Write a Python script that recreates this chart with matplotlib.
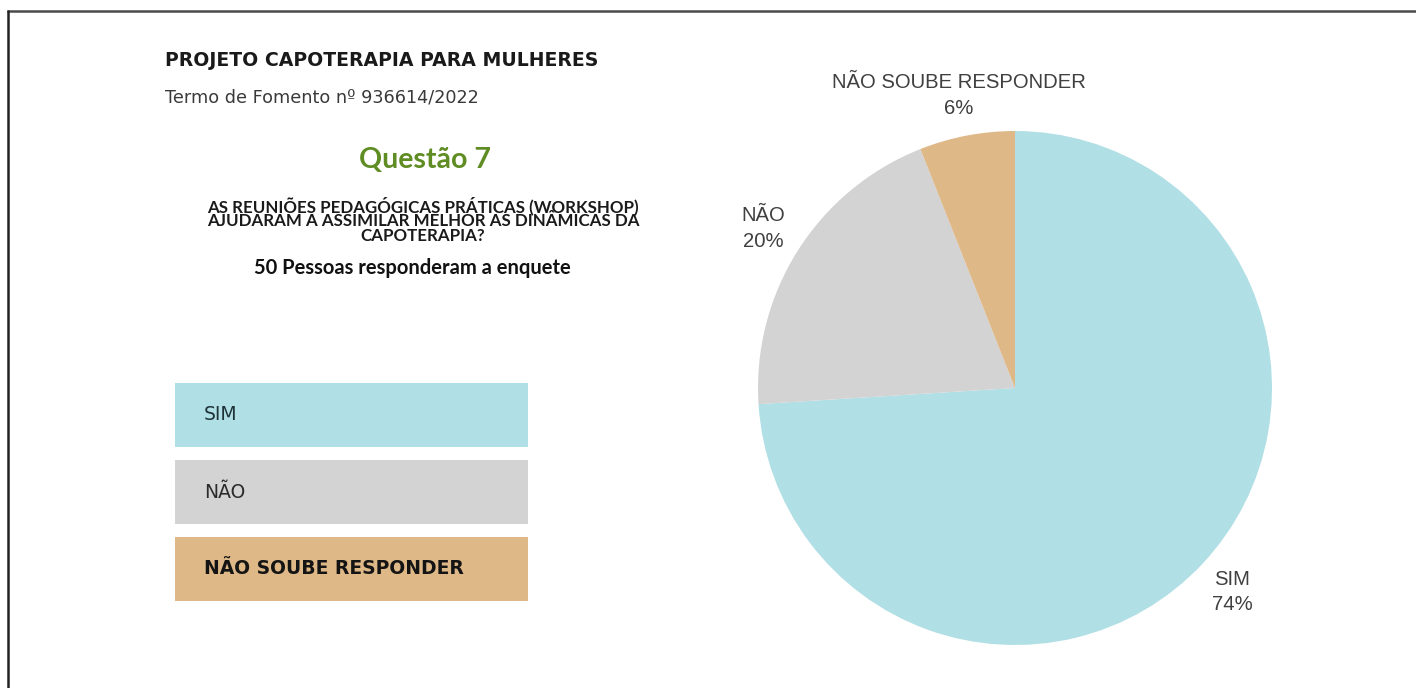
import matplotlib.pyplot as plt
from matplotlib.patches import Rectangle

# poll results (question 7, 50 answers)
categorias = ['SIM', 'NÃO', 'NÃO SOUBE RESPONDER']
percentuais = [74, 20, 6]
cores = ['#B0DFE5', '#D3D3D3', '#DEB887']

titulo = 'PROJETO CAPOTERAPIA PARA MULHERES'
subtitulo = 'Termo de Fomento nº 936614/2022'
questao = 'Questão 7'
pergunta = ['AS REUNIÕES PEDAGÓGICAS PRÁTICAS (WORKSHOP)',
            'AJUDARAM A ASSIMILAR MELHOR AS DINÂMICAS DA',
            'CAPOTERAPIA?']
respostas = '50 Pessoas responderam a enquete'

W, H = 1416, 688
fig = plt.figure(figsize=(W / 100, H / 100), dpi=100)
fig.patch.set_facecolor('white')

# background axes in pixel units (y pointing down)
bg = fig.add_axes([0, 0, 1, 1])
bg.set_xlim(0, W)
bg.set_ylim(H, 0)
bg.axis('off')

# frame lines (top and left)
bg.plot([7, W], [10.5, 10.5], color='#4a4a4a', lw=1.8, solid_capstyle='butt')
bg.plot([7.5, 7.5], [10, H], color='#222222', lw=1.8, solid_capstyle='butt')

bg.text(165, 61, titulo, fontsize=13.6, fontweight='bold', family='DejaVu Sans',
        color='#1a1a1a', va='center', ha='left')
bg.text(165, 97, subtitulo, fontsize=12.7, family='DejaVu Sans',
        color='#3a3a3a', va='center', ha='left')
bg.text(425, 160, questao, fontsize=20.5, fontweight='bold', family='Lato',
        color='#5f8c23', va='center', ha='center')
for i, linha in enumerate(pergunta):
    bg.text(423, 206 + i * 15, linha, fontsize=12.2, fontweight='bold',
            family='Lato', color='#1a1a1a', va='center', ha='center')
bg.text(412.5, 268, respostas, fontsize=14.5, fontweight='bold', family='Lato',
        color='#111111', va='center', ha='center')

# colour key boxes on the left
cores_texto = ['#1d3338', '#2b2b2b', '#141414']
pesos = ['normal', 'normal', 'bold']
for i, (cat, cor) in enumerate(zip(categorias, cores)):
    y0 = 383 + i * 77
    bg.add_patch(Rectangle((175, y0), 353, 64, facecolor=cor, edgecolor='none'))
    bg.text(204, y0 + 32, cat, fontsize=13.5, fontweight=pesos[i],
            family='DejaVu Sans', color=cores_texto[i], va='center', ha='left')

# pie chart: centre (1015, 388), radius 257 px
r = 257
lim = 1.4
size = 2 * lim * r
ax = fig.add_axes([(1015 - size / 2) / W, (H - 388 - size / 2) / H, size / W, size / H])
rotulos = [f'{c}\n{p}%' for c, p in zip(categorias, percentuais)]
wedges, texts = ax.pie(percentuais, labels=rotulos, colors=cores, startangle=90,
                       counterclock=False, labeldistance=1.16,
                       textprops=dict(fontsize=14.6, family='Liberation Sans',
                                      color='#404040', linespacing=1.45))
for t in texts:
    t.set_ha('center')
    t.set_multialignment('center')
ax.set_xlim(-lim, lim)
ax.set_ylim(-lim, lim)
ax.set_aspect('equal')
ax.axis('off')

fig.savefig('out.png', dpi=100, facecolor='white')
